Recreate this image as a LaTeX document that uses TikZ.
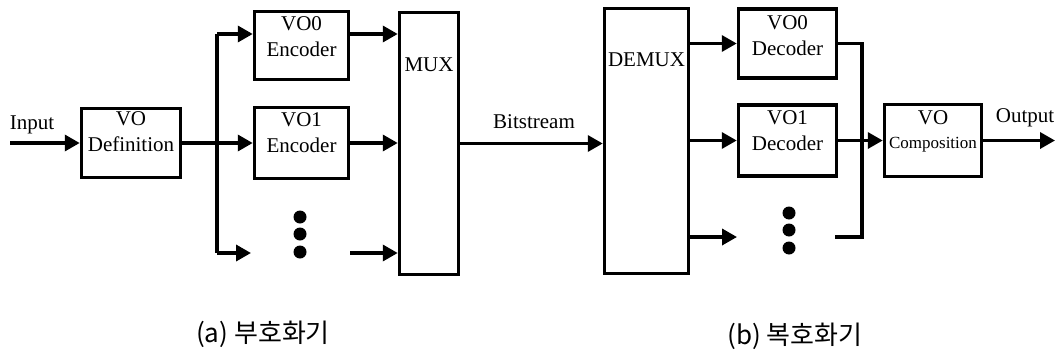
\documentclass[tikz,border=0pt]{standalone}
\usepackage{fontspec}
\setmainfont{Liberation Serif}
\newfontfamily\kofont{Noto Sans CJK KR}
\usetikzlibrary{arrows.meta}

\tikzset{
  bloc/.style={draw, line width=3.5pt, inner sep=0pt},
  titre/.style={anchor=north, inner sep=0pt, align=center},
  fil/.style={line width=3.5pt},
  fleche/.style={fil, -{Triangle[length=15pt,width=16pt]}},
  point/.style={circle, fill, inner sep=0pt, minimum size=13pt},
  legende/.style={font=\kofont\fontsize{26}{30}\selectfont},
}

\begin{document}
\begin{tikzpicture}[x=1pt,y=-1pt,font=\fontsize{21}{26}\selectfont]
\useasboundingbox (0,0) rectangle (1059,356);

% Codeur
\node[bloc, minimum width=99pt, minimum height=69pt] (vodef) at (131,143) {};
\node[titre] (vodeftxt) at ([yshift=-5pt]vodef.north) {VO\\Definition};
\node[bloc, minimum width=94pt, minimum height=68pt] (vo0enc) at (301.5,45.5) {};
\node[titre] (vo0enctxt) at ([yshift=-7pt]vo0enc.north) {VO0\\Encoder};
\node[bloc, minimum width=94pt, minimum height=71pt] (vo1enc) at (301.5,143) {};
\node[titre] (vo1enctxt) at ([yshift=-7pt]vo1enc.north) {VO1\\Encoder};
\node[bloc, minimum width=59pt, minimum height=262pt] (mux) at (429,143.5) {};
\node[titre] (muxtxt) at ([yshift=-47pt]mux.north) {MUX};

\node (input) at (32,125) {Input};
\coordinate (in) at (10,143);
\draw[fleche] (in) -- (vodef.west);

% Branches
\coordinate (bh) at (217,34);
\coordinate (bb) at (217,253);
\coordinate (e2) at (251,253);
\coordinate (s2) at (350,253);
\draw[fleche] (vodef.east) -- (vo1enc.west);
\draw[fil] (bh) -- (bb);
\draw[fleche] (bh) -- (bh -| vo0enc.west);
\draw[fleche] (bb) -- (e2);
\draw[fleche] (vo0enc.east |- bh) -- (mux.west |- bh);
\draw[fleche] (vo1enc.east) -- (mux.west |- vo1enc.east);
\draw[fleche] (s2) -- (mux.west |- s2);

\foreach \y in {217,234,252}
  \node[point] (ed\y) at (300,\y) {};

% Bitstream
\node[bloc, minimum width=84pt, minimum height=265pt] (demux) at (646.5,141) {};
\node[titre] (demuxtxt) at ([yshift=-46pt]demux.north) {DEMUX};
\draw[fleche] (mux.east) -- (mux.east -| demux.west);
\node (bitstream) at (534,122) {Bitstream};

% Decodeur
\node[bloc, minimum width=98pt, minimum height=69pt] (vo0dec) at (787.5,43.5) {};
\node[titre] (vo0dectxt) at ([yshift=-8pt]vo0dec.north) {VO0\\Decoder};
\node[bloc, minimum width=98pt, minimum height=71pt] (vo1dec) at (787.5,140.5) {};
\node[titre] (vo1dectxt) at ([yshift=-7pt]vo1dec.north) {VO1\\Decoder};
\node[bloc, minimum width=97pt, minimum height=72pt] (comp) at (933,140.5) {};
\node[titre] (comptxt) at ([yshift=-8pt]comp.north) {VO\\[-2pt]{\fontsize{17}{20}\selectfont Composition}};

\coordinate (d2) at (737,237);
\coordinate (mg) at (862,237);
\coordinate (m2) at (835,237);
\coordinate (out) at (1055,140.5);
\draw[fleche] (demux.east |- vo0dec.west) -- (vo0dec.west);
\draw[fleche] (demux.east |- vo1dec.west) -- (vo1dec.west);
\draw[fleche] (demux.east |- d2) -- (d2);
\draw[fil] (vo0dec.east) -| (mg) -- (m2);
\draw[fleche] (vo1dec.east) -- (comp.west);
\draw[fleche] (comp.east) -- (out);
\node (output) at (1025,118) {Output};

\foreach \y in {213,230,248}
  \node[point] (dd\y) at (789,\y) {};

% Legendes
\node[legende] (capa) at (263,334) {(a) 부호화기};
\node[legende] (capb) at (795,336) {(b) 복호화기};

\end{tikzpicture}
\end{document}
